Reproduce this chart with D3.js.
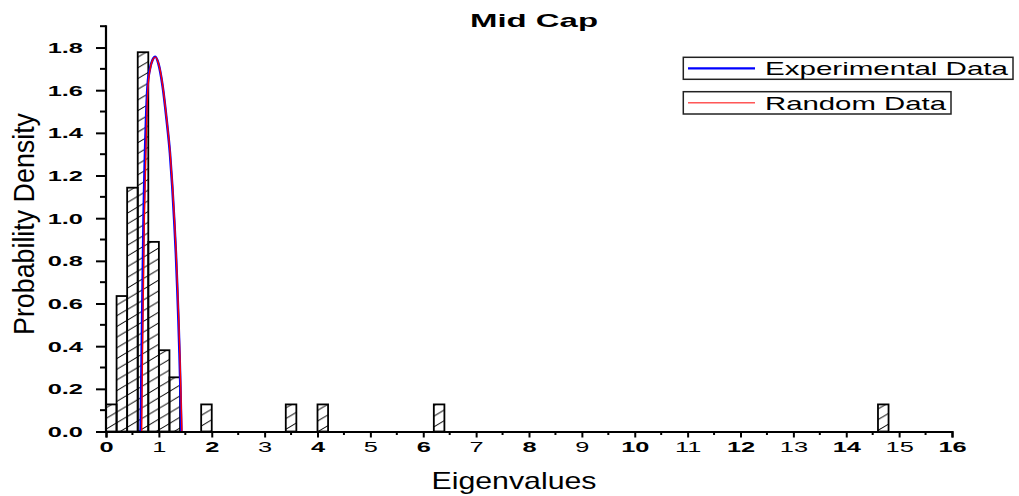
<!DOCTYPE html>
<html>
<head>
<meta charset="utf-8">
<script src="https://cdn.jsdelivr.net/npm/d3@7"></script>
<style>
  html, body { margin: 0; padding: 0; background: #fff; }
  svg { display: block; }
  text { font-family: "Liberation Sans", Arial, sans-serif; fill: #000; }
</style>
</head>
<body>
<svg id="chart" width="1019" height="496"></svg>
<script>
// Histogram of eigenvalues (bin width 0.2): left edge of each bin and its density
const binStarts = [0.0, 0.2, 0.4, 0.6, 0.8, 1.0, 1.2, 1.8, 3.4, 4.0, 6.2, 14.6];
const binDensity = [0.127, 0.635, 1.143, 1.778, 0.889, 0.381, 0.254, 0.127, 0.127, 0.127, 0.127, 0.127];
const binWidth = 0.2;

// Fitted density curves: eigenvalue and probability density
const expX = [0.655, 0.675, 0.71, 0.757, 0.785, 0.826, 0.88, 0.933, 0.99, 1.072, 1.147, 1.21, 1.254, 1.29, 1.322, 1.347, 1.37, 1.39, 1.407, 1.425];
const expY = [0, 0.367, 0.992, 1.46, 1.617, 1.695, 1.742, 1.757, 1.726, 1.617, 1.46, 1.304, 1.148, 0.992, 0.835, 0.679, 0.523, 0.367, 0.21, 0];
const rndX = [0.675, 0.69, 0.725, 0.769, 0.794, 0.832, 0.883, 0.935, 0.992, 1.075, 1.15, 1.213, 1.258, 1.295, 1.327, 1.352, 1.376, 1.396, 1.414, 1.435];
const rndY = [0, 0.367, 0.992, 1.46, 1.617, 1.695, 1.742, 1.755, 1.726, 1.617, 1.46, 1.304, 1.148, 0.992, 0.835, 0.679, 0.523, 0.367, 0.21, 0];

const xTicks = d3.range(0, 17, 1);
const yTicks = [0.0, 0.2, 0.4, 0.6, 0.8, 1.0, 1.2, 1.4, 1.6, 1.8];
const seriesNames = ["Experimental Data", "Random Data"];
const seriesColors = ["#0000ff", "#ff0000"];

const title = "Mid Cap";
const xTitle = "Eigenvalues";
const yTitle = "Probability Density";

const svg = d3.select("#chart");
const SX = 1.65; // horizontal stretch of the lettering

const x = d3.scaleLinear().domain([0, 16]).range([106, 952]);
const y = d3.scaleLinear().domain([0, 1.9]).range([431.5, 26.2]);

// hatch pattern for the bars
const defs = svg.append("defs");
const pat = defs.append("pattern")
  .attr("id", "hatch")
  .attr("patternUnits", "userSpaceOnUse")
  .attr("width", 18).attr("height", 10.7);
pat.append("path")
  .attr("d", "M0,10.7 L18,0 M-2,1.19 L2,-1.19 M16,11.89 L20,9.51")
  .attr("stroke", "#000").attr("stroke-width", 1);

// bars
svg.append("g").selectAll("rect")
  .data(binStarts.map((s, i) => ({ s, v: binDensity[i] })))
  .join("rect")
  .attr("x", d => x(d.s))
  .attr("y", d => y(d.v))
  .attr("width", d => x(d.s + binWidth) - x(d.s))
  .attr("height", d => y(0) - y(d.v))
  .attr("fill", "url(#hatch)")
  .attr("stroke", "#000")
  .attr("stroke-width", 1.8);

// density curves
const line = d3.line().x(d => x(d[0])).y(d => y(d[1])).curve(d3.curveMonotoneX);
svg.append("path")
  .datum(expX.map((v, i) => [v, expY[i]]))
  .attr("d", line).attr("fill", "none")
  .attr("stroke", seriesColors[0]).attr("stroke-width", 2.6);
svg.append("path")
  .datum(rndX.map((v, i) => [v, rndY[i]]))
  .attr("d", line).attr("fill", "none")
  .attr("stroke", seriesColors[1]).attr("stroke-width", 1.4);

// x axis
const xAxis = svg.append("g").attr("transform", `translate(0,${y(0)})`)
  .call(d3.axisBottom(x).tickValues(xTicks).tickSize(6).tickPadding(4).tickFormat(d3.format("d")));
xAxis.select(".domain").attr("stroke-width", 2.2);
xAxis.selectAll(".tick line").attr("stroke-width", 2);
xAxis.selectAll(".tick text")
  .attr("font-size", 15.4)
  .attr("font-family", "Liberation Sans, Arial, sans-serif")
  .attr("font-weight", d => d % 2 === 0 ? "bold" : "normal")
  .attr("transform", `scale(${SX},1)`)
  .attr("x", 0)
  .attr("dy", "0.71em");
// x minor ticks
svg.append("g").selectAll("line")
  .data(d3.range(0.5, 16, 1))
  .join("line")
  .attr("x1", d => x(d)).attr("x2", d => x(d))
  .attr("y1", y(0)).attr("y2", y(0) + 3.5)
  .attr("stroke", "#000").attr("stroke-width", 2);

// y axis
const yAxis = svg.append("g").attr("transform", `translate(${x(0)},0)`)
  .call(d3.axisLeft(y).tickValues(yTicks).tickSize(10).tickPadding(3).tickFormat(d3.format(".1f")));
yAxis.select(".domain").attr("stroke-width", 2.2).attr("d", `M-0,${y(0)}V${y(1.9) - 1}`);
yAxis.selectAll(".tick line").attr("stroke-width", 2);
yAxis.selectAll(".tick text")
  .attr("font-size", 15.4)
  .attr("font-family", "Liberation Sans, Arial, sans-serif")
  .attr("font-weight", "bold")
  .attr("x", 0)
  .attr("transform", `translate(-23,0) scale(${SX},1)`);
// y minor ticks
svg.append("g").selectAll("line")
  .data(d3.range(0.1, 1.95, 0.2))
  .join("line")
  .attr("x1", x(0) - 6).attr("x2", x(0))
  .attr("y1", d => y(d)).attr("y2", d => y(d))
  .attr("stroke", "#000").attr("stroke-width", 2);

// titles
svg.append("text")
  .attr("x", 534).attr("y", 27.3)
  .attr("text-anchor", "middle")
  .attr("font-size", 18.6).attr("font-weight", "bold")
  .attr("textLength", 128).attr("lengthAdjust", "spacingAndGlyphs")
  .text(title);

svg.append("text")
  .attr("x", 514).attr("y", 489)
  .attr("text-anchor", "middle")
  .attr("font-size", 24)
  .attr("textLength", 165).attr("lengthAdjust", "spacingAndGlyphs")
  .text(xTitle);

svg.append("text")
  .attr("transform", "translate(34,224) rotate(-90)")
  .attr("text-anchor", "middle")
  .attr("font-size", 30)
  .attr("textLength", 222).attr("lengthAdjust", "spacingAndGlyphs")
  .text(yTitle);

// legend
const legend = [
  { name: seriesNames[0], color: seriesColors[0], w: 2.2, top: 57.3, bottom: 79.3, right: 1013, textLen: 243 },
  { name: seriesNames[1], color: seriesColors[1], w: 1, top: 91.7, bottom: 114, right: 951, textLen: 181 }
];
const lg = svg.append("g");
legend.forEach(l => {
  lg.append("rect")
    .attr("x", 683.3).attr("y", l.top)
    .attr("width", l.right - 683.3).attr("height", l.bottom - l.top)
    .attr("fill", "#fff").attr("stroke", "#222").attr("stroke-width", 1.5);
  const my = (l.top + l.bottom) / 2;
  lg.append("line")
    .attr("x1", 688).attr("x2", 755)
    .attr("y1", my).attr("y2", my)
    .attr("stroke", l.color).attr("stroke-width", l.w);
  lg.append("text")
    .attr("x", 765).attr("y", my + 6.7)
    .attr("font-size", 18.6)
    .attr("textLength", l.textLen).attr("lengthAdjust", "spacingAndGlyphs")
    .text(l.name);
});
</script>
</body>
</html>
